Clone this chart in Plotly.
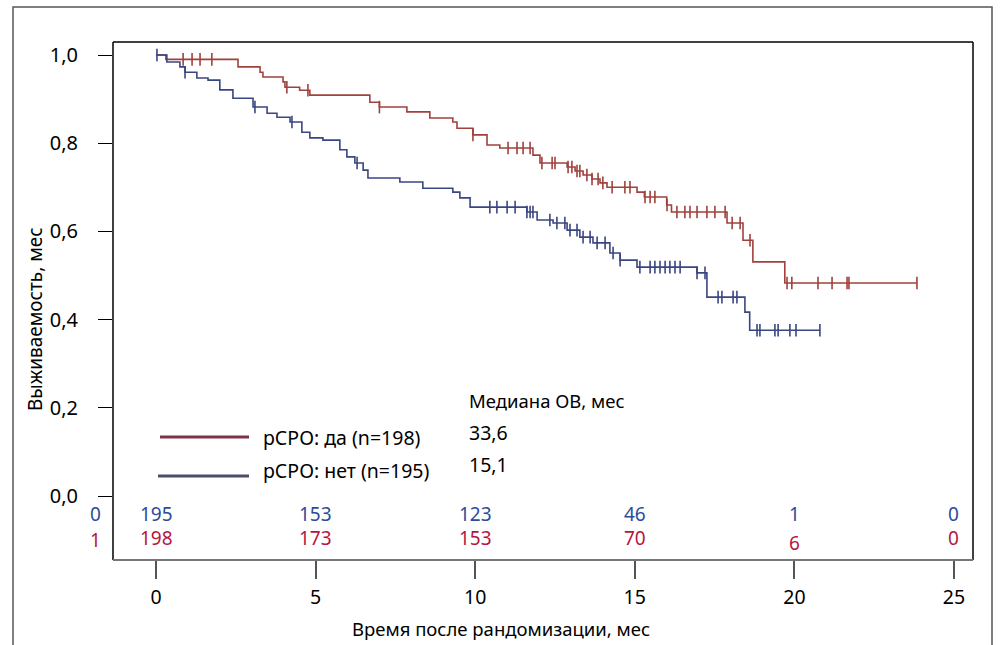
import numpy as np
import plotly.graph_objects as go

# ---------------- data ----------------
red_t = [0, 0.31, 2.57, 3.26, 3.35, 3.98, 4.04, 4.5, 4.82, 6.7, 7.0, 7.86, 8.58, 9.3, 9.43,
         9.93, 10.37, 10.77, 11.81, 12.03, 12.88, 13.13, 13.38, 13.66, 13.91, 14.13, 15.07,
         15.3, 16.0, 16.15, 17.89, 18.39, 18.7, 19.7, 23.84]
red_s = [1.0, 0.99, 0.973, 0.961, 0.95, 0.939, 0.927, 0.92, 0.909, 0.893, 0.882, 0.871, 0.857,
         0.848, 0.834, 0.819, 0.796, 0.789, 0.773, 0.755, 0.746, 0.737, 0.728, 0.719, 0.71, 0.70,
         0.689, 0.678, 0.66, 0.644, 0.619, 0.580, 0.531, 0.483, 0.483]
red_cens = [0.85, 1.13, 1.38, 1.75, 4.1, 4.76, 7.0, 9.93, 11.03, 11.31, 11.5, 11.72, 12.09,
            12.41, 12.5, 12.91, 13.03, 13.19, 13.28, 13.5, 13.66, 13.85, 14.0, 14.29, 14.69,
            14.85, 15.32, 15.48, 15.63, 16.01, 16.32, 16.57, 16.73, 16.95, 17.26, 17.51, 17.83,
            18.05, 18.3, 18.61, 19.77, 19.92, 20.74, 21.18, 21.65, 21.71, 23.84]

blue_t = [0, 0.34, 0.75, 0.91, 1.28, 1.63, 2.0, 2.41, 3.04, 3.48, 3.79, 4.2, 4.57, 4.82, 5.23,
          5.76, 5.98, 6.23, 6.49, 6.64, 7.64, 8.36, 9.3, 9.52, 9.84, 11.62, 11.94, 12.44, 12.88,
          13.28, 13.69, 14.22, 14.54, 15.07, 16.95, 17.26, 18.45, 18.6, 20.8]
blue_s = [1.0, 0.984, 0.973, 0.961, 0.948, 0.943, 0.921, 0.902, 0.882, 0.868, 0.859, 0.848,
          0.825, 0.812, 0.807, 0.785, 0.769, 0.755, 0.739, 0.721, 0.712, 0.698, 0.689, 0.676,
          0.655, 0.644, 0.626, 0.619, 0.603, 0.587, 0.574, 0.551, 0.535, 0.519, 0.506, 0.451,
          0.417, 0.376, 0.376]
blue_cens = [0.03, 0.91, 3.1, 4.26, 6.3, 10.46, 10.68, 11.0, 11.25, 11.62, 11.72, 11.81, 12.34,
             12.56, 12.81, 12.97, 13.19, 13.38, 13.6, 13.82, 14.07, 14.32, 14.54, 15.16, 15.48,
             15.63, 15.79, 15.95, 16.1, 16.26, 16.42, 16.95, 17.2, 17.61, 17.73, 18.08, 18.2,
             18.83, 18.92, 19.39, 19.49, 19.86, 20.05, 20.8]

risk_times = [0, 5, 10, 15, 20, 25]
risk_blue = [195, 153, 123, 46, 1, 0]
risk_red = [198, 173, 153, 70, 6, 0]

y_ticks = [0.0, 0.2, 0.4, 0.6, 0.8, 1.0]
y_ticktext = ["0,0", "0,2", "0,4", "0,6", "0,8", "1,0"]
x_ticks = [0, 5, 10, 15, 20, 25]

legend_labels = ["рСРО: да (n=198)", "рСРО: нет (n=195)"]
median_title = "Медиана ОВ, мес"
median_values = ["33,6", "15,1"]
x_title = "Время после рандомизации, мес"
y_title = "Выживаемость, мес"

# ---------------- style ----------------
RED = "#a0413d"
BLUE = "#3a4682"
RED_TXT = "#b5163f"
BLUE_TXT = "#2b4c9c"
FONT = "Noto Sans"

W, H = 1001, 645
L, R, T, B = 113, 28, 42, 85
PW, PH = W - L - R, H - T - B


def px(x):
    return (x - L) / PW


def py(y):
    return (H - B - y) / PH


def step_val(ts, ss, c):
    i = np.searchsorted(np.array(ts), np.array(c), side="right") - 1
    return np.array(ss)[i]


fig = go.Figure()
for ts, ss, cens, col in [(red_t, red_s, red_cens, RED), (blue_t, blue_s, blue_cens, BLUE)]:
    fig.add_trace(go.Scatter(x=ts, y=ss, mode="lines", line=dict(color=col, width=1.6, shape="hv"),
                             showlegend=False, hoverinfo="skip"))
    fig.add_trace(go.Scatter(x=cens, y=step_val(ts, ss, cens), mode="markers",
                             marker=dict(symbol="line-ns-open", size=9, color=col,
                                         line=dict(color=col, width=1.6)),
                             showlegend=False, hoverinfo="skip"))

shapes = []
# outer frame
shapes.append(dict(type="rect", xref="paper", yref="paper", x0=px(13), x1=px(992), y0=py(660), y1=py(7),
                   line=dict(color="#555555", width=1.5)))
# plot box: left, top, right black; bottom gray
shapes.append(dict(type="line", xref="paper", yref="paper", x0=0, x1=0, y0=0, y1=1, line=dict(color="black", width=1.5)))
shapes.append(dict(type="line", xref="paper", yref="paper", x0=0, x1=1, y0=1, y1=1, line=dict(color="black", width=1.5)))
shapes.append(dict(type="line", xref="paper", yref="paper", x0=1, x1=1, y0=0, y1=1, line=dict(color="black", width=1.5)))
shapes.append(dict(type="line", xref="paper", yref="paper", x0=0, x1=1, y0=0, y1=0, line=dict(color="#777777", width=2)))
# legend lines
shapes.append(dict(type="line", xref="paper", yref="paper", x0=px(160), x1=px(249), y0=py(437), y1=py(437),
                   line=dict(color="#7e3444", width=3)))
shapes.append(dict(type="line", xref="paper", yref="paper", x0=px(158), x1=px(249), y0=py(476), y1=py(476),
                   line=dict(color="#4b4f68", width=3)))

ann = []
for t, b, r in zip(risk_times, risk_blue, risk_red):
    ann.append(dict(x=t, y=py(514), xref="x", yref="paper", text=str(b), showarrow=False,
                    font=dict(color=BLUE_TXT, size=19, family=FONT), xanchor="center", yanchor="middle"))
    yr = py(543) if r == 6 else py(538)
    ann.append(dict(x=t, y=yr, xref="x", yref="paper", text=str(r), showarrow=False,
                    font=dict(color=RED_TXT, size=19, family=FONT), xanchor="center", yanchor="middle"))
ann.append(dict(x=px(95), y=py(514), xref="paper", yref="paper", text="0", showarrow=False,
                font=dict(color=BLUE_TXT, size=19, family=FONT), xanchor="center", yanchor="middle"))
ann.append(dict(x=px(95), y=py(540), xref="paper", yref="paper", text="1", showarrow=False,
                font=dict(color=RED_TXT, size=19, family=FONT), xanchor="center", yanchor="middle"))
for lab, yy in zip(legend_labels, [437, 470]):
    ann.append(dict(x=px(261), y=py(yy), xref="paper", yref="paper", text=lab, showarrow=False,
                    font=dict(color="black", size=19.5, family=FONT), xanchor="left", yanchor="middle"))
ann.append(dict(x=px(467), y=py(400), xref="paper", yref="paper", text=median_title, showarrow=False,
                font=dict(color="black", size=18.5, family=FONT), xanchor="left", yanchor="middle"))
for v, yy in zip(median_values, [432, 464]):
    ann.append(dict(x=px(467), y=py(yy), xref="paper", yref="paper", text=v, showarrow=False,
                    font=dict(color="black", size=19.5, family=FONT), xanchor="left", yanchor="middle"))
ann.append(dict(x=px(501), y=py(628), xref="paper", yref="paper", text=x_title, showarrow=False,
                font=dict(color="black", size=18.5, family=FONT), xanchor="center", yanchor="middle"))
ann.append(dict(x=px(35), y=py(319), xref="paper", yref="paper", text=y_title, showarrow=False, textangle=-90,
                font=dict(color="black", size=19, family=FONT), xanchor="center", yanchor="middle"))

fig.update_layout(
    width=W, height=H, margin=dict(l=L, r=R, t=T, b=B),
    paper_bgcolor="white", plot_bgcolor="white",
    shapes=shapes, annotations=ann, showlegend=False,
    font=dict(family=FONT, color="black"),
    xaxis=dict(range=[-1.347, 25.596], tickvals=x_ticks, ticks="outside", ticklen=18, tickwidth=1.5,
               tickcolor="#555555", showgrid=False, zeroline=False, showline=False,
               tickfont=dict(size=19.5, family=FONT), ticklabelstandoff=2),
    yaxis=dict(range=[-0.1451, 1.0295], tickvals=y_ticks, ticktext=y_ticktext, ticks="outside", ticklen=14,
               tickwidth=1.2, tickcolor="black", showgrid=False, zeroline=False, showline=False,
               tickfont=dict(size=20, family=FONT), ticklabelstandoff=16),
)

fig.write_html("out.html", config={"displayModeBar": False},
               post_script="document.body.style.margin='0';")
